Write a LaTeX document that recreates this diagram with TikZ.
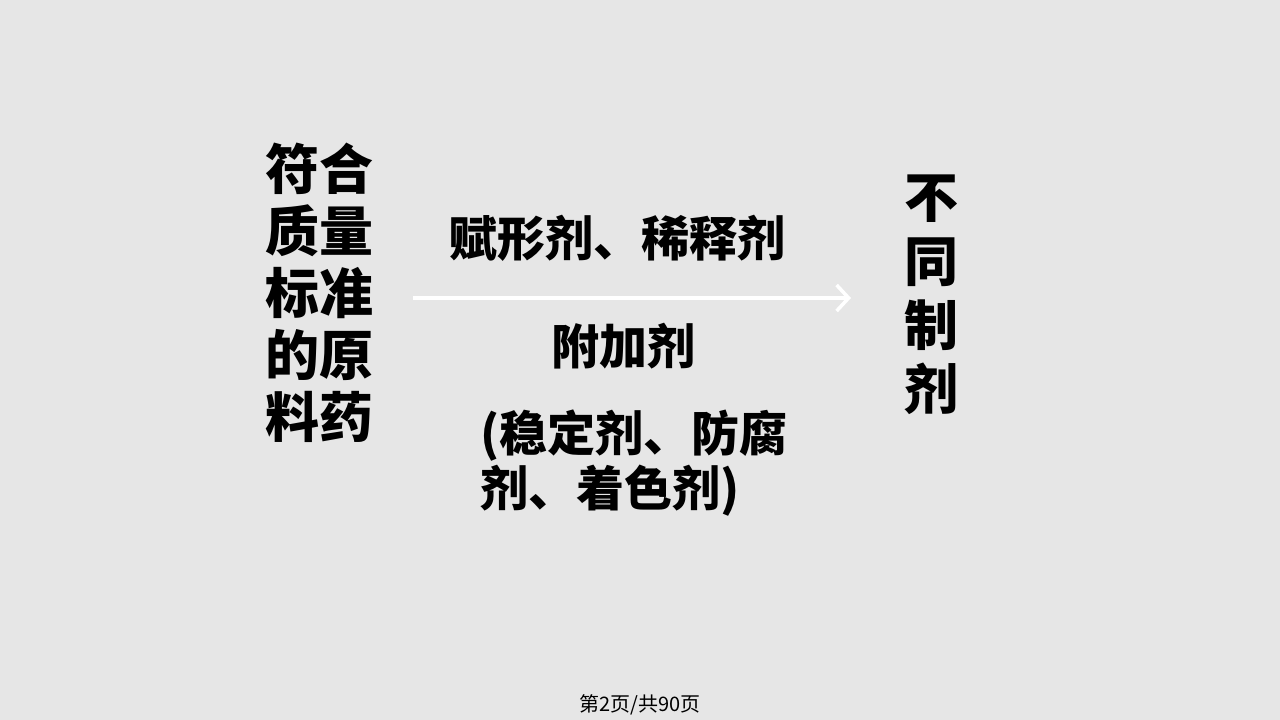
\documentclass[tikz,border=0pt]{standalone}
\usepackage{fontspec}
\setmainfont{Noto Sans CJK SC}[BoldFont={Noto Sans CJK SC Black}]
\usetikzlibrary{arrows.meta}
\definecolor{bgc}{RGB}{230,230,230}
\tikzset{
  bigcol/.style={inner sep=0pt, align=center, font=\bfseries\fontsize{54}{62}\selectfont},
  rightcol/.style={inner sep=0pt, align=center, font=\bfseries\fontsize{54}{64}\selectfont},
  midtext/.style={inner sep=0pt, align=left, font=\bfseries\fontsize{48}{55}\selectfont},
  arrowline/.style={draw=white, line width=3.5pt, -{Straight Barb[length=12pt,width=26pt]}},
  foottext/.style={inner sep=0pt, font=\fontsize{20}{24}\selectfont}
}
\begin{document}
\begin{tikzpicture}[x=1pt,y=-1pt]
\fill[bgc] (0,0) rectangle (1280,720);
\useasboundingbox (0,0) rectangle (1280,720);
\node[bigcol] (src) at (319,293) {符合\\质量\\标准\\的原\\料药};
\node[rightcol] (dst) at (931,295) {不\\同\\制\\剂};
\node[midtext] (excip) at (617,238) {赋形剂、稀释剂};
\node[midtext] (addit) at (623,346) {附加剂};
\node[midtext, anchor=west] (examples) at (480,463) {(稳定剂、防腐\\剂、着色剂)};
\coordinate (arrS) at (413,298);
\coordinate (arrE) at (851,298);
\draw[arrowline] (arrS) -- (arrE);
\node[foottext] (foot) at (640,705) {第2页/共90页};
\end{tikzpicture}
\end{document}
